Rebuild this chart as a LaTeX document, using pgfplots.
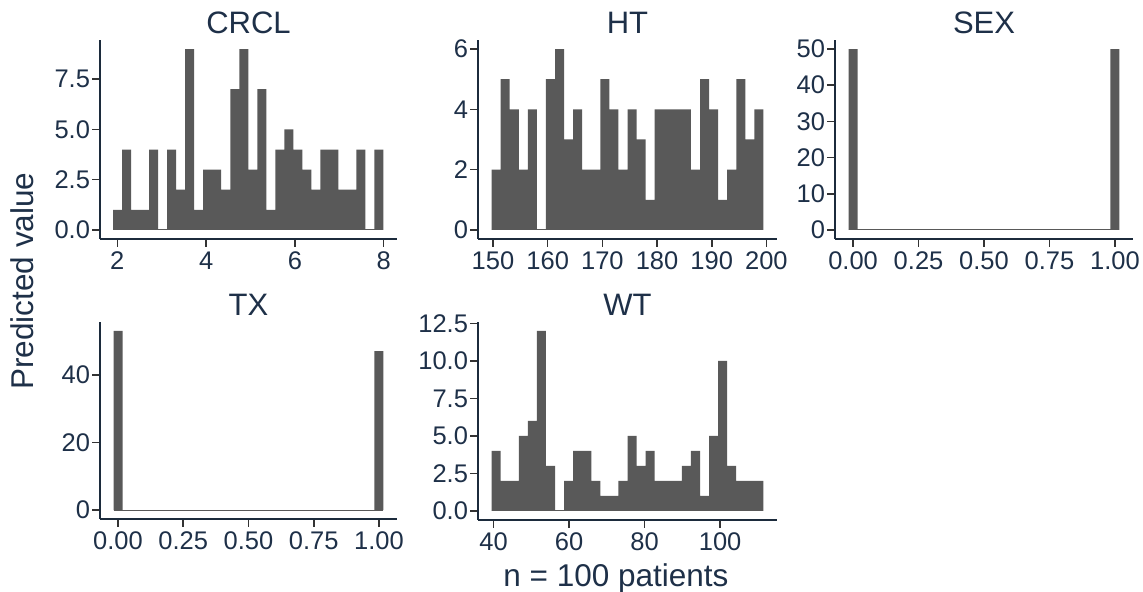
\documentclass[border=0pt]{standalone}
\usepackage{pgfplots}
\pgfplotsset{compat=1.18}
\usepackage{fontspec}
\setmainfont{Liberation Sans}
\definecolor{txt}{HTML}{1E3048}
\definecolor{axl}{HTML}{1C2B3C}
\definecolor{tk}{HTML}{333333}
\definecolor{barc}{HTML}{595959}
\pgfplotsset{
  panel/.style={
    scale only axis,
    anchor=south west,
    axis x line*=bottom,
    axis y line*=left,
    axis line style={axl, line width=1.4pt},
    tick align=outside,
    major tick length=3.8pt,
    tick style={tk, line width=0.8pt},
    tick label style={font=\fontsize{12.75}{14}\selectfont, text=txt, inner sep=1pt},
    xticklabel style={yshift=-1.5pt},
    /pgf/number format/assume math mode=true,
    title style={font=\fontsize{15.5}{17}\selectfont, text=txt, at={(0.5,1)}, anchor=base, yshift=-3pt},
    minor tick num=0,
  },
  zeroline/.style={barc, line width=0.5pt},
  hbars/.style={ybar interval, fill=barc, draw=none},
}
\begin{document}
\begin{tikzpicture}
\useasboundingbox (0,0) rectangle (571.5pt,296pt);
% CRCL
\begin{axis}[panel, at={(50pt,176.5pt)}, width=148.5pt, height=99.5pt,
  xmin=1.61, xmax=8.30, ymin=-0.45, ymax=9.45,
  xtick={2,4,6,8}, xticklabels={2,4,6,8},
  ytick={0,2.5,5,7.5}, yticklabels={0.0,2.5,5.0,7.5},
  title={CRCL}]
\addplot[zeroline] coordinates {(1.905,0) (7.995,0)};
\addplot[hbars] coordinates {
(1.905,1) (2.108,4) (2.311,1) (2.514,1) (2.717,4) (2.920,0) (3.123,4) (3.326,2) (3.529,9) (3.732,1)
(3.935,3) (4.138,3) (4.341,2) (4.544,7) (4.747,9) (4.950,3) (5.153,7) (5.356,1) (5.559,4) (5.762,5)
(5.965,4) (6.168,3) (6.371,2) (6.574,4) (6.777,4) (6.980,2) (7.183,2) (7.386,4) (7.589,0) (7.792,4)
(7.995,4)};
\end{axis}
% HT
\begin{axis}[panel, at={(239pt,176.5pt)}, width=149.5pt, height=99.5pt,
  xmin=147.26, xmax=201.94, ymin=-0.3, ymax=6.3,
  xtick={150,160,170,180,190,200}, xticklabels={150,160,170,180,190,200},
  ytick={0,2,4,6}, yticklabels={0,2,4,6},
  title={HT}]
\addplot[zeroline] coordinates {(149.75,0) (199.46,0)};
\addplot[hbars] coordinates {
(149.75,2) (151.41,5) (153.06,4) (154.72,2) (156.38,4) (158.04,0) (159.69,5) (161.35,6) (163.01,3) (164.66,4)
(166.32,2) (167.98,2) (169.63,5) (171.29,4) (172.95,2) (174.60,4) (176.26,3) (177.92,1) (179.58,4) (181.23,4)
(182.89,4) (184.55,4) (186.20,2) (187.86,5) (189.52,4) (191.17,1) (192.83,2) (194.49,5) (196.15,3) (197.80,4)
(199.46,4)};
\end{axis}
% SEX
\begin{axis}[panel, at={(417.5pt,176.5pt)}, width=149pt, height=99.5pt,
  xmin=-0.069, xmax=1.069, ymin=-2.5, ymax=52.5,
  xtick={0,0.25,0.5,0.75,1}, xticklabels={0.00,0.25,0.50,0.75,1.00},
  ytick={0,10,20,30,40,50}, yticklabels={0,10,20,30,40,50},
  title={SEX}]
\addplot[zeroline] coordinates {(-0.01724,0) (1.01724,0)};
\addplot[hbars] coordinates {(-0.01724,50) (0.01724,0) (0.98276,50) (1.01724,50)};
\end{axis}
% TX
\begin{axis}[panel, at={(50pt,36.5pt)}, width=148.5pt, height=98.5pt,
  xmin=-0.069, xmax=1.069, ymin=-2.65, ymax=55.65,
  xtick={0,0.25,0.5,0.75,1}, xticklabels={0.00,0.25,0.50,0.75,1.00},
  ytick={0,20,40}, yticklabels={0,20,40},
  title={TX}]
\addplot[zeroline] coordinates {(-0.01724,0) (1.01724,0)};
\addplot[hbars] coordinates {(-0.01724,53) (0.01724,0) (0.98276,47) (1.01724,47)};
\end{axis}
% WT
\begin{axis}[panel, at={(239pt,36pt)}, width=149.5pt, height=99pt,
  xmin=35.87, xmax=115.07, ymin=-0.6, ymax=12.6,
  xtick={40,60,80,100}, xticklabels={40,60,80,100},
  ytick={0,2.5,5,7.5,10,12.5}, yticklabels={0.0,2.5,5.0,7.5,10.0,12.5},
  title={WT}]
\addplot[zeroline] coordinates {(39.47,0) (111.47,0)};
\addplot[hbars] coordinates {
(39.47,4) (41.87,2) (44.27,2) (46.67,5) (49.07,6) (51.47,12) (53.87,3) (56.27,0) (58.67,2) (61.07,4)
(63.47,4) (65.87,2) (68.27,1) (70.67,1) (73.07,2) (75.47,5) (77.87,3) (80.27,4) (82.67,2) (85.07,2)
(87.47,2) (89.87,3) (92.27,4) (94.67,1) (97.07,5) (99.47,10) (101.87,3) (104.27,2) (106.67,2) (109.07,2)
(111.47,2)};
\end{axis}
\node[rotate=90, anchor=center, text=txt, font=\fontsize{15.75}{17}\selectfont, inner sep=0pt] at (11pt,155.5pt) {Predicted value};
\node[anchor=base, text=txt, font=\fontsize{15.75}{17}\selectfont, inner sep=0pt] at (308pt,2.5pt) {n = 100 patients};
\end{tikzpicture}
\end{document}
